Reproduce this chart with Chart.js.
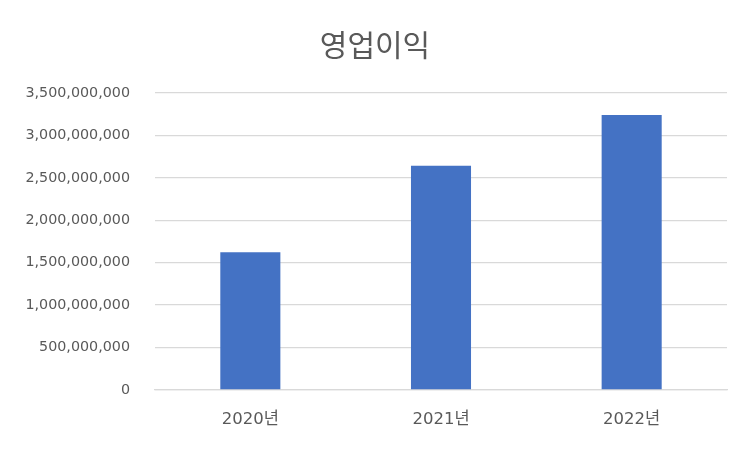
<!DOCTYPE html>
<html>
<head>
<meta charset="utf-8">
<script src="https://cdn.jsdelivr.net/npm/chart.js@4/dist/chart.umd.min.js"></script>
<style>
  html, body { margin: 0; padding: 0; background: #fff; }
  #wrap { width: 750px; height: 450px; }
</style>
</head>
<body>
<div id="wrap"><canvas id="chart"></canvas></div>
<script>
const years = ['2020년', '2021년', '2022년'];
const operatingProfit = [1624000000, 2642000000, 3242000000];
const yTicks = [0, 500000000, 1000000000, 1500000000, 2000000000, 2500000000, 3000000000, 3500000000];

const titleFont = '"Noto Sans CJK KR", "Noto Sans", sans-serif';
const tickFont = '"DejaVu Sans", "Noto Sans CJK KR", sans-serif';
const textColor = '#595959';
const gridColor = '#d9d9d9';

const ctx = document.getElementById('chart').getContext('2d');
new Chart(ctx, {
    type: 'bar',
    data: {
        labels: years,
        datasets: [{
            label: '영업이익',
            data: operatingProfit,
            backgroundColor: '#4472c4',
            categoryPercentage: 1,
            barPercentage: 0.315,
        }],
    },
    options: {
        responsive: true,
        maintainAspectRatio: false,
        animation: false,
        devicePixelRatio: 1,
        // equal side padding so the title sits in the middle of the canvas
        layout: { padding: { left: 23, right: 23, top: 0, bottom: 0 } },
        plugins: {
            legend: { display: false },
            tooltip: { enabled: false },
            title: {
                display: true,
                text: '영업이익',
                color: textColor,
                font: { family: titleFont, size: 30, weight: 'normal' },
                padding: { top: 27, bottom: 30 },
            },
        },
        scales: {
            x: {
                grid: { display: false, drawTicks: false },
                border: { display: true, color: gridColor, width: 1.3 },
                ticks: {
                    color: textColor,
                    font: { family: tickFont, size: 16.5 },
                    padding: 20,
                },
                afterFit: (scale) => { scale.height = 60; },
            },
            y: {
                min: 0,
                max: 3500000000,
                afterBuildTicks: (scale) => {
                    scale.ticks = yTicks.map(v => ({ value: v }));
                },
                afterFit: (scale) => { scale.width = 132; },
                grid: { color: gridColor, lineWidth: 1.3, drawTicks: false },
                border: { display: false },
                ticks: {
                    color: textColor,
                    font: { family: tickFont, size: 14.3 },
                    padding: 25,
                    callback: (v) => Number(v).toLocaleString('en-US'),
                },
            },
        },
    },
});
</script>
</body>
</html>
